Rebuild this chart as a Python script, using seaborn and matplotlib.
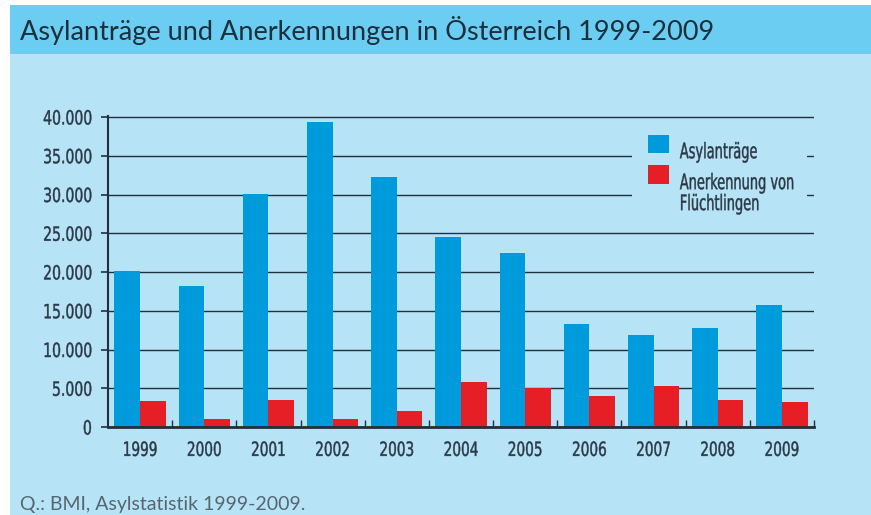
import os
import matplotlib
matplotlib.use("Agg")
import matplotlib.pyplot as plt
import matplotlib.font_manager as fm
from matplotlib.patches import Rectangle, Patch
from matplotlib.legend_handler import HandlerPatch
from matplotlib.patheffects import AbstractPathEffect
from matplotlib.transforms import Affine2D
from matplotlib.textpath import TextPath
from matplotlib.ticker import FixedLocator, FuncFormatter
import numpy as np
import pandas as pd
import seaborn as sns

# ---------------- data ----------------
years = ["1999", "2000", "2001", "2002", "2003", "2004", "2005", "2006", "2007", "2008", "2009"]
asylantraege = [20100, 18250, 30050, 39300, 32300, 24550, 22400, 13300, 11850, 12780, 15780]
anerkennungen = [3380, 1060, 3480, 1060, 2070, 5800, 5030, 4050, 5240, 3530, 3230]
series_names = ["Asylanträge", "Anerkennung von Flüchtlingen"]
legend_labels = ["Asylanträge", "Anerkennung von", "Flüchtlingen"]
y_ticks = [0, 5000, 10000, 15000, 20000, 25000, 30000, 35000, 40000]
title_text = "Asylanträge und Anerkennungen in Österreich 1999-2009"
source_text = "Q.: BMI, Asylstatistik 1999-2009."

# ---------------- style ----------------
BLUE = "#009bdc"
RED = "#e61e26"
BAND = "#6ccdf2"
BODY = "#b7e3f7"
DARK = "#22303b"
TXT = "#2a3844"
PX = 100 / 72  # pixels per point at dpi 100

sns.set_style("white")


class HSquash(AbstractPathEffect):
    """Draw text horizontally compressed (to imitate a condensed typeface)."""

    def __init__(self, sx=0.75, anchor=0.0, stroke=0.3):
        super().__init__()
        self.sx = sx
        self.anchor = anchor
        self.stroke = stroke

    def draw_path(self, renderer, gc, tpath, affine, rgbFace=None):
        ext = tpath.get_extents()
        a = self.anchor * ext.x1
        t = Affine2D().translate(-a, 0).scale(self.sx, 1).translate(a, 0) + affine
        gc0 = renderer.new_gc()
        gc0.copy_properties(gc)
        if rgbFace is not None and self.stroke > 0:
            gc0.set_linewidth(self.stroke)
            gc0.set_foreground(rgbFace)
        renderer.draw_path(gc0, tpath, t, rgbFace)
        gc0.restore()


# condensed font file for axis / legend texts
files = {os.path.basename(f.fname): f.fname for f in fm.fontManager.ttflist}
cond_file = None
for cand in ["DejaVuSansCondensed.ttf", "LiberationSansNarrow-Regular.ttf"]:
    if cand in files:
        cond_file = files[cand]
        break


def cprop(size):
    if cond_file:
        return fm.FontProperties(fname=cond_file, size=size)
    return fm.FontProperties(family="DejaVu Sans", stretch="condensed", size=size)


def ink(s, size):
    e = TextPath((0, 0), s, prop=cprop(size)).get_extents()
    return e.width * PX, e.height * PX


# sizes fitted to the measured glyph heights / widths of the original (in px)
fs_tick = 10 * 14.8 / ink("0", 10)[1]
sx_y = 47.5 / ink("40.000", fs_tick)[0]
sx_x = 32.3 / ink("1999", fs_tick)[0]
fs_leg = 10 * 15.6 / ink("A", 10)[1]
sx_leg = 0.5 * (77.0 / ink("Asylanträge", fs_leg)[0] + 113.0 / ink("Anerkennung von", fs_leg)[0])
leg_px = fs_leg * PX

names = {f.name for f in fm.fontManager.ttflist}
title_family = ["Lato", "DejaVu Sans"] if "Lato" in names else ["DejaVu Sans"]

W, H = 871, 515
fig = plt.figure(figsize=(W / 100, H / 100), dpi=100)
fig.patch.set_facecolor("white")

# background panels
fig.add_artist(Rectangle((10 / W, 0), 1 - 10 / W, (H - 54) / H,
                         transform=fig.transFigure, facecolor=BODY, edgecolor="none", zorder=-10))
fig.add_artist(Rectangle((10 / W, (H - 54) / H), 1 - 10 / W, 49 / H,
                         transform=fig.transFigure, facecolor=BAND, edgecolor="none", zorder=-10))

fig.text(20 / W, 1 - 40 / H, title_text, ha="left", va="baseline", fontsize=19.5,
         color="#1b2f3d", family=title_family, fontweight="normal")
fig.text(20 / W, 1 - 510 / H, source_text, ha="left", va="baseline", fontsize=14,
         color="#56666f", family=title_family, fontweight="normal")

ymax = 40080
ax_bottom = (H - 427) / H
ax_top = (H - (427 - 310 * ymax / 40000)) / H
ax = fig.add_axes([108 / W, ax_bottom, (814 - 108) / W, ax_top - ax_bottom])
ax.set_facecolor("none")

df = pd.DataFrame({
    "Jahr": years * 2,
    "Wert": asylantraege + anerkennungen,
    "Serie": [series_names[0]] * len(years) + [series_names[1]] * len(years),
})
sns.barplot(data=df, x="Jahr", y="Wert", hue="Serie", hue_order=series_names,
            palette=[BLUE, RED], saturation=1, width=0.8, linewidth=0,
            errorbar=None, legend=False, ax=ax, zorder=3)

ax.set_xlim(-0.5, len(years) - 0.5)
ax.set_ylim(0, ymax)
ax.set_xlabel("")
ax.set_ylabel("")

ax.yaxis.set_major_locator(FixedLocator(y_ticks))
ax.yaxis.set_major_formatter(FuncFormatter(lambda v, p: f"{int(v):,}".replace(",", ".")))
ax.xaxis.set_minor_locator(FixedLocator(np.arange(0.5, len(years), 1.0)))

ax.yaxis.grid(True, color=DARK, linewidth=1.0, zorder=1)
ax.xaxis.grid(False)
ax.set_axisbelow(True)

for s in ["top", "right"]:
    ax.spines[s].set_visible(False)
ax.spines["left"].set_color(DARK)
ax.spines["left"].set_linewidth(1.5)
ax.spines["bottom"].set_color(DARK)
ax.spines["bottom"].set_linewidth(2.0)
ax.spines["bottom"].set_zorder(4)

ax.tick_params(axis="y", which="major", direction="out", length=5, width=1.2, color=DARK,
               pad=6.5, labelcolor=TXT, left=True)
ax.tick_params(axis="x", which="major", length=0, pad=10, labelcolor=TXT, bottom=True)
ax.tick_params(axis="x", which="minor", direction="in", length=5, width=1, color=DARK, bottom=True)

TICK_FP = cprop(fs_tick)
for t in ax.get_yticklabels():
    t.set_fontproperties(TICK_FP)
    t.set_path_effects([HSquash(sx_y, 1.0)])
for t in ax.get_xticklabels():
    t.set_fontproperties(TICK_FP)
    t.set_path_effects([HSquash(sx_x, 0.5)])


def square_patch(legend, orig_handle, xdescent, ydescent, width, height, fontsize):
    return Rectangle((-xdescent, -ydescent + 0.33 * fontsize), width, height)


LEG_FP = cprop(fs_leg)
handles = [Patch(facecolor=BLUE, edgecolor="none", label=legend_labels[0]),
           Patch(facecolor=RED, edgecolor="none", label=legend_labels[1])]
leg = ax.legend(handles=handles, loc="upper left", bbox_to_anchor=(0.7418, 0.9723),
                bbox_transform=ax.transAxes, frameon=False,
                borderpad=16.6 / leg_px, borderaxespad=0,
                handlelength=20.5 / leg_px, handleheight=20.5 / leg_px,
                handletextpad=11.0 / leg_px, labelspacing=10.3 / leg_px,
                prop=LEG_FP, labelcolor=TXT,
                handler_map={Patch: HandlerPatch(patch_func=square_patch)})
leg.set_zorder(5)
for t in leg.get_texts():
    t.set_path_effects([HSquash(sx_leg, 0.0)])

fig.canvas.draw()
renderer = fig.canvas.get_renderer()
ann = ax.annotate(legend_labels[2], xy=(0, 0), xycoords=leg.get_texts()[1],
                  xytext=(0, -0.7), textcoords="offset points", ha="left", va="top",
                  fontproperties=LEG_FP, color=TXT, annotation_clip=False, zorder=6)
ann.set_path_effects([HSquash(sx_leg, 0.0)])

# legend background (hides the grid lines behind the legend, like in the original)
lb = leg.get_window_extent(renderer)
maxw = max(t.get_window_extent(renderer).width for t in leg.get_texts())
x1 = lb.x1 - (1 - sx_leg) * maxw - 4
inv = ax.transAxes.inverted()
(ax0, ay0), (ax1, ay1) = inv.transform([(lb.x0, lb.y0), (x1, lb.y1)])
ax.add_patch(Rectangle((ax0, ay0), ax1 - ax0, ay1 - ay0, transform=ax.transAxes,
                       facecolor=BODY, edgecolor="none", zorder=4.5, clip_on=False))

fig.savefig("out.png", dpi=100, facecolor=fig.get_facecolor())
